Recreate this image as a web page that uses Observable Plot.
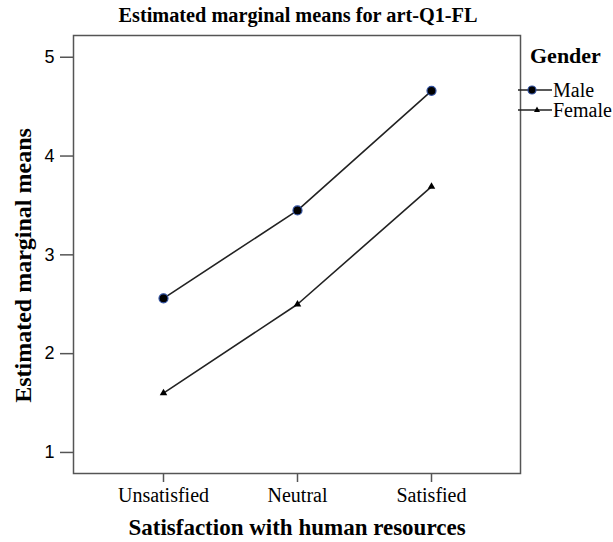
<!DOCTYPE html>
<html><head><meta charset="utf-8">
<script src="https://cdn.jsdelivr.net/npm/d3@7"></script>
<script src="https://cdn.jsdelivr.net/npm/@observablehq/plot@0.6"></script>
<style>
body{margin:0;background:#fff;}
#wrap{position:relative;width:613px;height:542px;}
#title{height:30px;width:596px;text-align:center;font-family:'Liberation Serif',serif;font-weight:bold;font-size:20.3px;line-height:30px;color:#000;white-space:nowrap;}
#legend{position:absolute;left:510px;top:40px;}
</style></head>
<body><div id="wrap"><div id="title">Estimated marginal means for art-Q1-FL</div><div id="chart"></div>
<svg id="legend" width="103" height="90" font-family="Liberation Serif, serif" fill="#000">
<text x="20" y="23" font-weight="bold" font-size="22">Gender</text>
<line x1="8" y1="50" x2="42" y2="50" stroke="#222" stroke-width="1.5"/><circle cx="22" cy="50" r="4" fill="#000" stroke="#3050a0" stroke-width="1.2"/>
<text x="43" y="56.5" font-size="20">Male</text>
<line x1="8" y1="70" x2="42" y2="70" stroke="#222" stroke-width="1.5"/><path d="M27,66.5L30,72L24,72Z" fill="#000"/>
<text x="43" y="76.5" font-size="20">Female</text>
</svg>
</div>
<script>
const categories = ["Unsatisfied","Neutral","Satisfied"];
const maleValues = [2.56, 3.45, 4.66];
const femaleValues = [1.60, 2.50, 3.69];
const yTicks = [1,2,3,4,5];
const xLabel = "Satisfaction with human resources";
const yLabel = "Estimated marginal means";

const data = [
  ...categories.map((c,i)=>({cat:c, value:maleValues[i], gender:"Male"})),
  ...categories.map((c,i)=>({cat:c, value:femaleValues[i], gender:"Female"}))
];
const male = data.filter(d=>d.gender==="Male");
const female = data.filter(d=>d.gender==="Female");

const chart = Plot.plot({
  width:613, height:512,
  marginLeft:73, marginRight:93, marginTop:5, marginBottom:69,
  style:{background:"#fff", color:"#000", overflow:"visible"},
  x:{type:"point", domain:categories, padding:0.66},
  y:{domain:[0.787,5.22]},
  marks:[
    Plot.frame({stroke:"#555", strokeWidth:1.5}),
    Plot.axisY({ticks:yTicks, tickFormat:"d", tickSize:13, tickPadding:6, label:null, fontSize:18, fontFamily:"Liberation Sans, sans-serif", stroke:"#555", strokeWidth:1.5}),
    Plot.axisX({tickSize:9, tickPadding:5, label:null, fontSize:20, fontFamily:"Liberation Serif, serif", stroke:"#555", strokeWidth:1.5}),
    Plot.line(male, {x:"cat", y:"value", stroke:"#222", strokeWidth:1.6}),
    Plot.line(female, {x:"cat", y:"value", stroke:"#222", strokeWidth:1.6}),
    Plot.dot(male, {x:"cat", y:"value", r:4.5, fill:"#000", stroke:"#3050a0", strokeWidth:1.2}),
    Plot.dot(female, {x:"cat", y:"value", symbol:"triangle", r:2.8, fill:"#000"}),
    Plot.text([xLabel], {frameAnchor:"bottom", textAnchor:"middle", dy:61, fontSize:23, fontWeight:"bold", fontFamily:"Liberation Serif, serif", fill:"#000"}),
    Plot.text([yLabel], {frameAnchor:"left", textAnchor:"middle", rotate:-90, dx:-50, dy:11, fontSize:24, fontWeight:"bold", fontFamily:"Liberation Serif, serif", fill:"#000"})
  ]
});
document.getElementById("chart").appendChild(chart);
</script></body></html>
